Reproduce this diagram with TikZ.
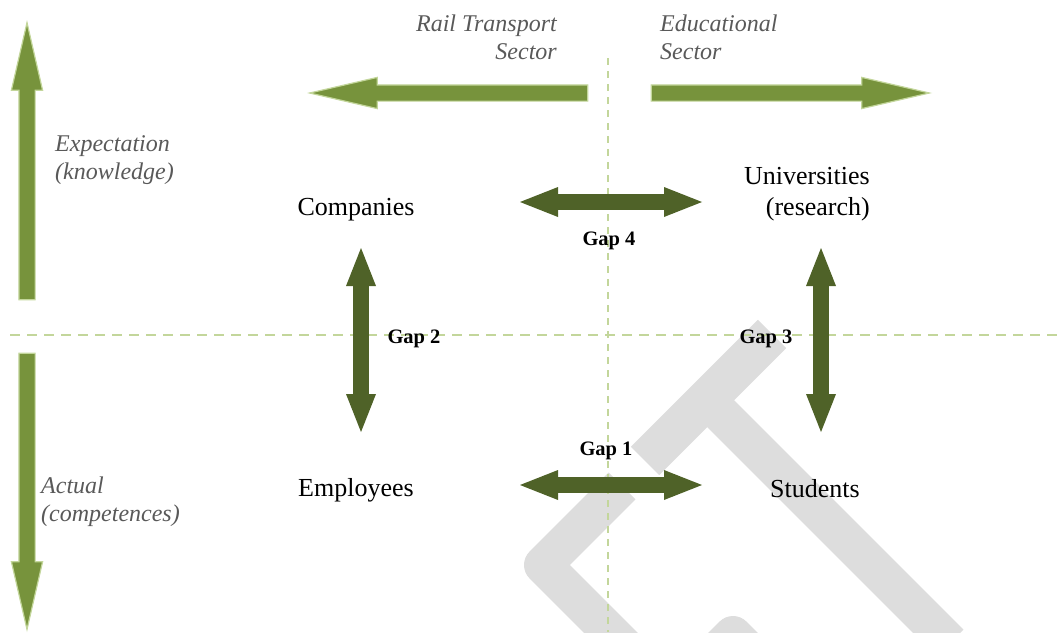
\documentclass[tikz,border=0pt]{standalone}
\usepackage{fontspec}
\setmainfont{Liberation Serif}
\usetikzlibrary{arrows.meta,shapes.arrows}

\definecolor{sectorgreen}{HTML}{77933C}
\definecolor{sectoredge}{HTML}{C3D69B}
\definecolor{gapgreen}{HTML}{4F6228}
\definecolor{axisdash}{HTML}{C3D69B}
\definecolor{labelgray}{HTML}{595959}
\definecolor{markgray}{HTML}{DDDDDD}

\begin{document}
\begin{tikzpicture}[x=1pt,y=1pt,yscale=-1,xscale=1,
    bigarrow/.style={single arrow, fill=sectorgreen, draw=sectoredge, line width=1.2pt,
      inner sep=7.5pt, single arrow head extend=7.5pt, single arrow tip angle=26, anchor=tip},
    gaparrow/.style={draw=gapgreen, line width=16pt,
      {Triangle[length=38pt,width=30pt,line width=0pt]}-{Triangle[length=38pt,width=30pt,line width=0pt]}},
    actor/.style={inner sep=0pt, font=\fontsize{26}{31}\selectfont},
    side/.style={inner sep=0pt, text=labelgray, font=\fontsize{24}{28}\selectfont\itshape},
    gaplabel/.style={inner sep=0pt, font=\fontsize{20.5}{24}\selectfont\bfseries},
    axis/.style={draw=axisdash, line width=1.5pt, dash pattern=on 10pt off 7pt}]
        \useasboundingbox (0,0) rectangle (1057,632);

        %Shape: watermark
        \begin{scope}
        \clip (0,0) rectangle (1057,632);
        \draw [markgray, line width=40pt, line join=round] (772,334) -- (645,461);
        \draw [markgray, line width=38pt] (707,400) -- (950,643);
        \draw [markgray, line width=38pt, line join=round] (622,486) -- (543,565) -- (630,652);
        \draw [markgray, line width=38pt, line join=round] (690,678) -- (733,635) -- (776,678);
        \end{scope}

        %Straight Lines: axes
        \coordinate (axisl) at (10,335);
        \coordinate (axisr) at (1057,335);
        \coordinate (axist) at (608,58);
        \coordinate (axisb) at (608,632);
        \draw [axis] (axisl) -- (axisr);
        \draw [axis, line width=1.2pt, dash pattern=on 7pt off 6pt] (axist) -- (axisb);

        %Shape: sector arrows
        \node [bigarrow, minimum height=277pt, rotate=90] (expectarrow) at (27,20) {};
        \node [bigarrow, minimum height=276pt, rotate=-90] (actualarrow) at (27,632) {};
        \node [bigarrow, minimum height=278pt, rotate=180] (railarrow) at (307,93) {};
        \node [bigarrow, minimum height=278pt] (eduarrow) at (932,93) {};

        % Text Node
        \node [side, anchor=west, align=left] (expect) at (55,160) {Expectation\\(knowledge)};
        % Text Node
        \node [side, anchor=west, align=left] (actual) at (41,502) {Actual\\(competences)};
        % Text Node
        \node [side, anchor=east, align=right] (rail) at (557,37) {Rail Transport\\Sector};
        % Text Node
        \node [side, anchor=west, align=left] (edu) at (660,37) {Educational\\Sector};

        % Text Node
        \node [actor] (comp) at (356,210) {Companies};
        % Text Node
        \node [actor] (emp) at (356,490) {Employees};
        % Text Node
        \node [actor, anchor=east, align=right] (univ) at (870,194) {Universities\\(research)};
        % Text Node
        \node [actor] (stud) at (815,489) {Students};

        %Straight Lines: gaps
        \coordinate (gap4l) at (520,202);
        \coordinate (gap4r) at (702,202);
        \coordinate (gap1l) at (520,485);
        \coordinate (gap1r) at (702,485);
        \coordinate (gap2t) at (361,248);
        \coordinate (gap2b) at (361,432);
        \coordinate (gap3t) at (821,248);
        \coordinate (gap3b) at (821,432);
        \draw [gaparrow] (gap4l) -- (gap4r);
        \draw [gaparrow] (gap1l) -- (gap1r);
        \draw [gaparrow] (gap2t) -- (gap2b);
        \draw [gaparrow] (gap3t) -- (gap3b);

        % Text Node
        \node [gaplabel] (gap4) at (609,241) {Gap 4};
        % Text Node
        \node [gaplabel] (gap2) at (414,339) {Gap 2};
        % Text Node
        \node [gaplabel] (gap3) at (766,339) {Gap 3};
        % Text Node
        \node [gaplabel] (gap1) at (606,451) {Gap 1};

\end{tikzpicture}
\end{document}
